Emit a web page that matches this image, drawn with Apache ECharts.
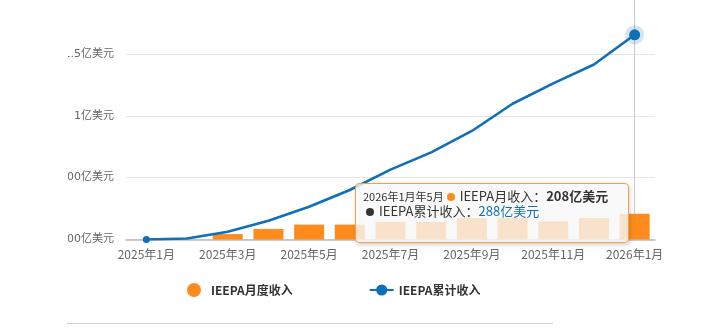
<!DOCTYPE html>
<html>
<head>
<meta charset="utf-8">
<script src="https://cdn.jsdelivr.net/npm/echarts@6/dist/echarts.min.js"></script>
<style>
  html, body { margin: 0; padding: 0; background: #fff; width: 704px; height: 333px; overflow: hidden; }
  #chart { position: absolute; left: 68px; top: 0; width: 636px; height: 333px; }
  #rule { position: absolute; left: 67px; top: 323px; width: 486px; height: 0; border-top: 1px solid #cfcfcf; }
</style>
</head>
<body>
<div id="chart"></div>
<div id="rule"></div>
<script>
// Months on the category axis
const months = ['2025年1月','2025年2月','2025年3月','2025年4月','2025年5月','2025年6月','2025年7月',
                '2025年8月','2025年9月','2025年10月','2025年11月','2025年12月','2026年1月'];
// Monthly IEEPA revenue (亿美元)
const monthlyRevenue = [0, 0, 44, 85, 120, 120, 142, 142, 174, 174, 147, 174, 208];
// Cumulative IEEPA revenue (亿美元)
const cumulativeRevenue = [0, 8, 63, 152, 265, 400, 565, 704, 877, 1097, 1262, 1414, 1654];
// Y-axis tick labels keyed by tick value
const yTickValues = [0, 500, 1000, 1500, 2000];
const yTickLabels = ['000亿美元', '500亿美元', '1亿美元', '1.5亿美元', '2亿美元'];
// Tooltip text for the highlighted month
const tipHeader = '2026年1月年5月';
const tipMonthlyName = 'IEEPA月收入';
const tipMonthlyValue = '208亿美元';
const tipCumName = 'IEEPA累计收入';
const tipCumValue = '288亿美元';

const BAR = '#ff8b1c';
const LINE = '#0f6fb8';
const FONT = '"Noto Sans CJK SC", "Noto Sans", sans-serif';
const YFONT = '"DejaVu Sans", "Noto Sans CJK SC", sans-serif';
const lastIdx = months.length - 1;

const chart = echarts.init(document.getElementById('chart'), null, { renderer: 'canvas' });

const dot = (c) => `<span style="display:inline-block;width:8px;height:8px;border-radius:4px;background:${c};margin:0 5px 0 3px;vertical-align:0px"></span>`;
const row = (html) => `<div style="height:15px;line-height:15px;white-space:nowrap">${html}</div>`;

chart.setOption({
  animation: false,
  textStyle: { fontFamily: FONT },
  grid: { left: 58, right: 49, top: -8, bottom: 93.5, containLabel: false, outerBoundsMode: 'none' },
  legend: {
    left: 114, top: 278,
    itemWidth: 24, itemHeight: 14, itemGap: 76,
    textStyle: { fontSize: 12, fontWeight: 'bold', color: '#333', fontFamily: FONT },
    data: [{ name: 'IEEPA月度收入', icon: 'circle' }, { name: 'IEEPA累计收入' }]
  },
  tooltip: {
    trigger: 'axis',
    triggerOn: 'none',
    alwaysShowContent: true,
    transitionDuration: 0,
    position: [287, 183],
    padding: [4, 7],
    backgroundColor: 'rgba(248,248,248,0.8)',
    borderColor: '#f0a04a',
    borderWidth: 1,
    textStyle: { fontSize: 13, lineHeight: 15, color: '#333', fontFamily: FONT },
    extraCssText: 'width:274px;height:60px;box-sizing:border-box;border-radius:4px;box-shadow:1px 2px 4px rgba(0,0,0,0.18);line-height:15px;',
    axisPointer: { type: 'line', z: 1, lineStyle: { color: '#cccccc', width: 1, type: 'solid' } },
    formatter: () =>
      `<div style="font-family:${FONT};color:#333;font-size:13px;line-height:15px">` +
      row(`<span style="font-size:11px">${tipHeader}</span>${dot(BAR)}${tipMonthlyName}：<b>${tipMonthlyValue}</b>`) +
      row(`${dot('#333')}${tipCumName}：<span style="color:${LINE}">${tipCumValue}</span>`) +
      `</div>`
  },
  xAxis: {
    type: 'category',
    data: months,
    boundaryGap: true,
    axisLine: { lineStyle: { color: '#bbbbbb', width: 1.5 } },
    axisTick: { alignWithLabel: true, interval: 1, length: 5, lineStyle: { color: '#cccccc' } },
    axisLabel: { interval: 1, fontSize: 12, color: '#666', margin: 9, fontFamily: FONT },
    splitLine: { show: false }
  },
  yAxis: {
    type: 'value',
    min: 0, max: 2000, interval: 500,
    axisLine: { show: false },
    axisTick: { show: false },
    axisLabel: {
      fontSize: 11, color: '#666', margin: 12, fontFamily: YFONT,
      formatter: (v) => yTickLabels[yTickValues.indexOf(v)]
    },
    splitLine: { lineStyle: { color: '#e6e6e6', width: 1 } }
  },
  series: [
    {
      name: 'IEEPA月度收入',
      type: 'bar',
      data: monthlyRevenue,
      barWidth: 30,
      itemStyle: { color: BAR },
      emphasis: { disabled: true },
      z: 2
    },
    {
      name: 'halo',
      type: 'scatter',
      data: cumulativeRevenue.map((v, i) => (i === lastIdx ? v : null)),
      symbolSize: 19,
      itemStyle: { color: 'rgba(15,111,184,0.22)' },
      silent: true,
      emphasis: { disabled: true },
      z: 3
    },
    {
      name: 'IEEPA累计收入',
      type: 'line',
      data: cumulativeRevenue,
      showSymbol: true,
      showAllSymbol: true,
      symbol: 'circle',
      symbolSize: (v, p) => (p.dataIndex === 0 ? 7 : p.dataIndex === lastIdx ? 10 : 0),
      lineStyle: { color: LINE, width: 2.6 },
      itemStyle: { color: LINE },
      emphasis: { disabled: true },
      z: 4
    }
  ]
});

chart.dispatchAction({ type: 'showTip', seriesIndex: 2, dataIndex: lastIdx });
</script>
</body>
</html>
